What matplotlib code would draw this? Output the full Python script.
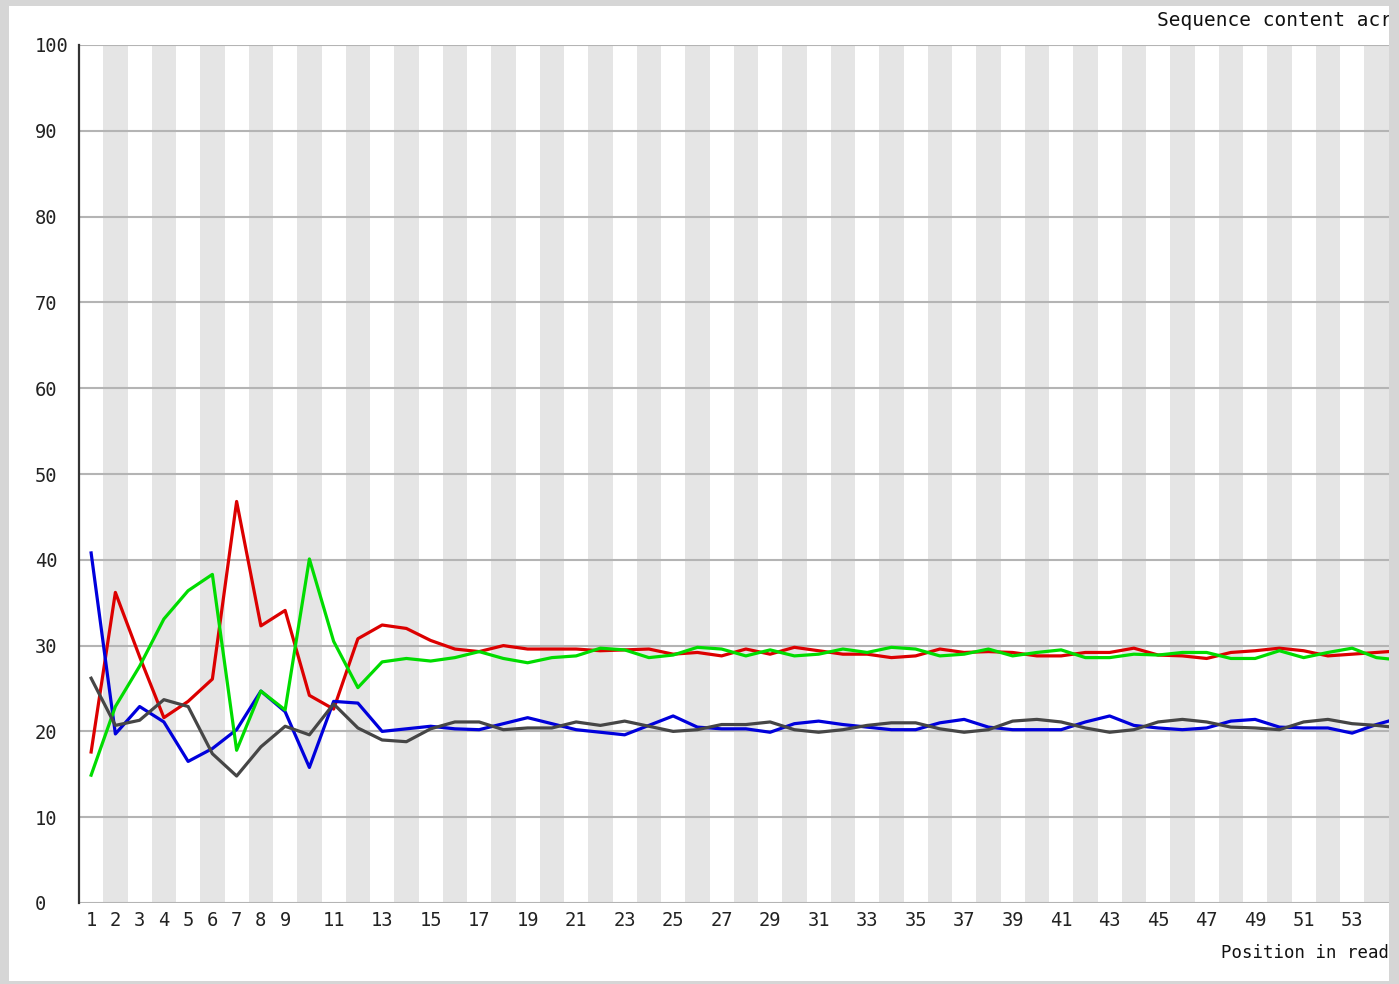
import numpy as np
import matplotlib
matplotlib.use('Agg')
import matplotlib.pyplot as plt
from matplotlib.patches import Rectangle

positions = list(range(1, 56))

pct_red = [17.6, 36.2, 28.7, 21.6, 23.5, 26.1, 46.8, 32.3, 34.1, 24.2,
           22.6, 30.8, 32.4, 32.0, 30.6, 29.6, 29.3, 30.0, 29.6, 29.6,
           29.6, 29.4, 29.5, 29.6, 29.0, 29.2, 28.8, 29.6, 29.0, 29.8,
           29.4, 29.0, 29.0, 28.6, 28.8, 29.6, 29.2, 29.3, 29.2, 28.8,
           28.8, 29.2, 29.2, 29.7, 28.9, 28.8, 28.5, 29.2, 29.4, 29.7,
           29.4, 28.8, 29.0, 29.2, 29.4]
pct_green = [14.9, 22.9, 27.6, 33.1, 36.4, 38.3, 17.8, 24.7, 22.5, 40.1,
             30.5, 25.1, 28.1, 28.5, 28.2, 28.6, 29.3, 28.5, 28.0, 28.6,
             28.8, 29.7, 29.5, 28.6, 28.9, 29.8, 29.6, 28.8, 29.5, 28.8,
             29.0, 29.6, 29.2, 29.8, 29.6, 28.8, 29.0, 29.6, 28.8, 29.2,
             29.5, 28.6, 28.6, 29.0, 28.9, 29.2, 29.2, 28.5, 28.5, 29.4,
             28.6, 29.2, 29.7, 28.6, 28.3]
pct_blue = [40.8, 19.7, 22.9, 21.1, 16.5, 18.0, 20.2, 24.7, 22.3, 15.8,
            23.5, 23.3, 20.0, 20.3, 20.6, 20.3, 20.2, 20.9, 21.6, 20.9,
            20.2, 19.9, 19.6, 20.7, 21.8, 20.5, 20.3, 20.3, 19.9, 20.9,
            21.2, 20.8, 20.5, 20.2, 20.2, 21.0, 21.4, 20.5, 20.2, 20.2,
            20.2, 21.1, 21.8, 20.7, 20.4, 20.2, 20.4, 21.2, 21.4, 20.5,
            20.4, 20.4, 19.8, 20.8, 21.6]
pct_gray = [26.2, 20.7, 21.3, 23.7, 22.9, 17.4, 14.8, 18.2, 20.6, 19.6,
            23.2, 20.4, 19.0, 18.8, 20.3, 21.1, 21.1, 20.2, 20.4, 20.4,
            21.1, 20.7, 21.2, 20.6, 20.0, 20.2, 20.8, 20.8, 21.1, 20.2,
            19.9, 20.2, 20.7, 21.0, 21.0, 20.3, 19.9, 20.2, 21.2, 21.4,
            21.1, 20.4, 19.9, 20.2, 21.1, 21.4, 21.1, 20.5, 20.4, 20.2,
            21.1, 21.4, 20.9, 20.7, 20.4]

xtick_pos = list(range(1, 10)) + list(range(11, 55, 2))
ytick_pos = list(range(0, 101, 10))

plt.rcParams['font.family'] = ['DejaVu Sans Mono']

W, H = 1399, 984
fig = plt.figure(figsize=(W / 100, H / 100), dpi=100, facecolor='#d6d6d6')

# white panel inside the screenshot frame
fig.patches.append(Rectangle((9 / W, 1 - 981 / H), (1389 - 9) / W, (981 - 6) / H,
                             transform=fig.transFigure, facecolor='white',
                             edgecolor='none', zorder=-5))

ax = fig.add_axes([79 / W, 1 - 903 / H, (1389 - 79) / W, (903 - 45) / H])
ax.set_zorder(1)
ax.set_facecolor('white')
ax.set_xlim(0.5, 0.5 + (1389 - 79) / 24.25)
ax.set_ylim(0, 100)

for p in positions:
    if p % 2 == 0:
        ax.axvspan(p - 0.5, p + 0.5, color='#e5e5e5', lw=0, zorder=0)
for y in ytick_pos:
    ax.axhline(y, color='#b4b4b4', lw=1.5, zorder=1)

ax.plot(positions, pct_red, color='#dc0000', lw=2.3, zorder=3)
ax.plot(positions, pct_blue, color='#0000dc', lw=2.3, zorder=3)
ax.plot(positions, pct_green, color='#00dc00', lw=2.3, zorder=3)
ax.plot(positions, pct_gray, color='#464646', lw=2.3, zorder=3)

for s in ['top', 'right', 'bottom']:
    ax.spines[s].set_visible(False)
ax.spines['left'].set_color('#333333')
ax.spines['left'].set_linewidth(1.6)

ax.set_xticks(xtick_pos)
ax.set_xticklabels([str(v) for v in xtick_pos], fontsize=13.5)
ax.set_yticks(ytick_pos)
ax.set_yticklabels([str(v) for v in ytick_pos], fontsize=13.5)
ax.tick_params(axis='x', length=0, pad=6, colors='#222222')
ax.tick_params(axis='y', length=0, pad=(79 - 35) * 0.72, colors='#222222')
for lab in ax.get_yticklabels():
    lab.set_horizontalalignment('left')

fig.text(1157 / W, 1 - 21 / H, 'Sequence content across all bases', fontsize=14,
         ha='left', va='center', color='#111111', zorder=2)
fig.text(1221 / W, 1 - 953 / H, 'Position in read (bp)', fontsize=12.5,
         ha='left', va='center', color='#111111', zorder=2)

# right frame edge hides the rest of the cropped texts
fig.patches.append(Rectangle((1389 / W, 0), 10 / W, 1, transform=fig.transFigure,
                             facecolor='#d6d6d6', edgecolor='none', zorder=20))

fig.savefig('out.png', dpi=100)
